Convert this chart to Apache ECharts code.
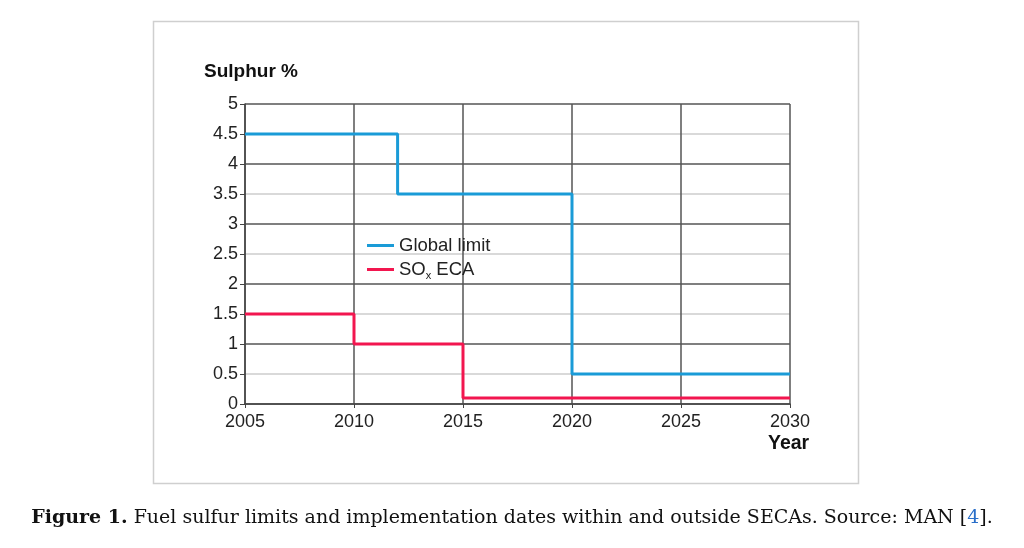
<!DOCTYPE html>
<html><head><meta charset="utf-8">
<script src="https://cdn.jsdelivr.net/npm/echarts@6/dist/echarts.min.js"></script>
<style>html,body{margin:0;padding:0;background:#fff}#c{width:1024px;height:548px}</style>
</head><body><div id="c"></div>
<script>
const yTicks = [0,0.5,1,1.5,2,2.5,3,3.5,4,4.5,5];
const xTicks = [2005,2010,2015,2020,2025,2030];
const globalYears = [2005,2012,2020,2030];
const globalVals = [4.5,3.5,0.5,0.5];
const ecaYears = [2005,2010,2015,2030];
const ecaVals = [1.5,1.0,0.1,0.1];

const chart = echarts.init(document.getElementById('c'));
const font = 'Liberation Sans, Arial, sans-serif';
const serif = 'DejaVu Serif, Liberation Serif, serif';
chart.setOption({
  animation:false,
  backgroundColor:'#fff',
  grid:{left:245,right:234,top:104,bottom:144,containLabel:false},
  xAxis:{type:'value',min:xTicks[0],max:xTicks[xTicks.length-1],interval:5,
    axisLine:{lineStyle:{color:'#444',width:1.5}},
    axisTick:{show:true,length:4,lineStyle:{color:'#444'}},
    axisLabel:{color:'#222',fontSize:18,fontFamily:font,margin:9,formatter:v=>String(v)},
    splitLine:{show:true,lineStyle:{color:'#555',width:1.5}},
  },
  yAxis:{type:'value',min:yTicks[0],max:yTicks[yTicks.length-1],interval:0.5,
    axisLine:{show:true,lineStyle:{color:'#444',width:1.5}},
    axisTick:{show:true,length:5,lineStyle:{color:'#444'}},
    axisLabel:{color:'#222',fontSize:18,fontFamily:font,margin:7},
    splitLine:{show:true,lineStyle:{color:['#555','#ccc'],width:1.5}},
  },
  legend:{left:362,top:231,orient:'vertical',itemGap:5,itemWidth:27,itemHeight:3,
    icon:'rect',
    textStyle:{fontSize:18.5,fontFamily:font,color:'#222',rich:{sub:{fontSize:11,verticalAlign:'bottom',padding:[12,0,0,0],fontFamily:font,color:'#222'}}},
    formatter:n=> n==='SOx ECA' ? 'SO{sub|x} ECA' : n,
    data:['Global limit','SOx ECA']},
  series:[
    {name:'Global limit',type:'line',step:'end',symbol:'none',color:'#1a9bd7',
      lineStyle:{width:3,color:'#1a9bd7'},data:globalYears.map((y,i)=>[y,globalVals[i]])},
    {name:'SOx ECA',type:'line',step:'end',symbol:'none',color:'#f2164f',
      lineStyle:{width:3,color:'#f2164f'},data:ecaYears.map((y,i)=>[y,ecaVals[i]])}
  ],
  graphic:[
    {type:'rect',shape:{x:153.5,y:21.5,width:705,height:462},style:{fill:'none',stroke:'#cfcfcf',lineWidth:1.5},silent:true,z:-1},
    {type:'text',left:204,top:62,style:{text:'Sulphur %',font:'bold 19px '+font,fill:'#111'}},
    {type:'text',left:768,top:434,style:{text:'Year',font:'bold 19.5px '+font,fill:'#111'}},
    {type:'text',left:'center',top:509,style:{
      text:'{b|Figure 1.} Fuel sulfur limits and implementation dates within and outside SECAs. Source: MAN [{l|4}].',
      rich:{
        b:{fontWeight:'bold',fontSize:19,fontFamily:serif,fill:'#111'},
        l:{fontSize:19,fontFamily:serif,fill:'#2a6fc9'}
      },
      font:'19px '+serif,fill:'#111'}}
  ]
});
</script></body></html>
